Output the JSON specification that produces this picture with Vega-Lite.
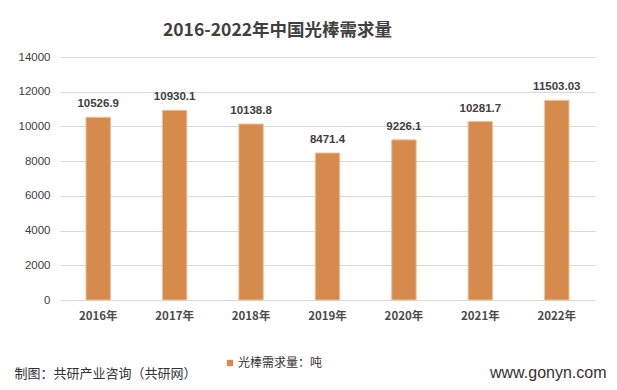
{
  "$schema": "https://vega.github.io/schema/vega-lite/v6.json",
  "autosize": "none",
  "width": 535,
  "height": 243,
  "padding": {"left": 60, "top": 57, "right": 22, "bottom": 90},
  "background": "white",
  "title": {
    "text": "2016-2022年中国光棒需求量",
    "font": "Noto Sans CJK SC",
    "fontSize": 17.5,
    "fontWeight": "bold",
    "color": "#404040",
    "anchor": "middle",
    "frame": "group",
    "dx": -50,
    "offset": 12
  },
  "data": {
    "values": [
      {"year": "2016年", "value": 10526.9, "label": "10526.9", "series": "光棒需求量：吨"},
      {"year": "2017年", "value": 10930.1, "label": "10930.1", "series": "光棒需求量：吨"},
      {"year": "2018年", "value": 10138.8, "label": "10138.8", "series": "光棒需求量：吨"},
      {"year": "2019年", "value": 8471.4, "label": "8471.4", "series": "光棒需求量：吨"},
      {"year": "2020年", "value": 9226.1, "label": "9226.1", "series": "光棒需求量：吨"},
      {"year": "2021年", "value": 10281.7, "label": "10281.7", "series": "光棒需求量：吨"},
      {"year": "2022年", "value": 11503.03, "label": "11503.03", "series": "光棒需求量：吨"}
    ]
  },
  "encoding": {
    "x": {
      "field": "year",
      "type": "nominal",
      "sort": null,
      "scale": {"paddingInner": 0.68, "paddingOuter": 0.34},
      "axis": {
        "title": "制图：共研产业咨询（共研网）",
        "titleX": -46,
        "titleY": 77,
        "titleAlign": "left",
        "titleBaseline": "alphabetic",
        "titleFont": "Noto Sans CJK SC",
        "titleFontSize": 13,
        "titleFontWeight": "normal",
        "titleColor": "#333333",
        "labelAngle": 0,
        "labelFont": "Noto Sans CJK SC",
        "labelFontSize": 11.5,
        "labelFontWeight": "bold",
        "labelColor": "#4a4a4a",
        "labelPadding": 10,
        "domain": false,
        "ticks": false
      }
    },
    "y": {
      "field": "value",
      "type": "quantitative",
      "scale": {"domain": [0, 14000]},
      "axis": {
        "values": [0, 2000, 4000, 6000, 8000, 10000, 12000, 14000],
        "format": "d",
        "title": "www.gonyn.com",
        "titleAngle": 0,
        "titleX": 546,
        "titleY": 320,
        "titleAlign": "right",
        "titleBaseline": "alphabetic",
        "titleFont": "Liberation Sans",
        "titleFontSize": 16,
        "titleFontWeight": "normal",
        "titleColor": "#333333",
        "labelFont": "Liberation Sans",
        "labelFontSize": 11.5,
        "labelColor": "#404040",
        "labelPadding": 10,
        "domain": false,
        "ticks": false,
        "gridColor": "#D9D9D9",
        "gridWidth": 1
      }
    }
  },
  "layer": [
    {
      "mark": {"type": "bar", "stroke": "#EDC29E", "strokeWidth": 1},
      "encoding": {
        "color": {
          "field": "series",
          "type": "nominal",
          "scale": {"range": ["#D68B4D"]},
          "legend": {
            "title": null,
            "orient": "none",
            "legendX": 164,
            "legendY": 300,
            "symbolType": "square",
            "symbolSize": 40,
            "symbolStrokeWidth": 0,
            "labelFont": "Noto Sans CJK SC",
            "labelFontSize": 12,
            "labelColor": "#333333",
            "labelOffset": 2
          }
        }
      }
    },
    {
      "mark": {"type": "text", "dy": -13, "font": "Liberation Sans", "fontSize": 11.5, "fontWeight": "bold", "color": "#404040"},
      "encoding": {"text": {"field": "label"}}
    }
  ],
  "config": {"view": {"stroke": null}}
}
